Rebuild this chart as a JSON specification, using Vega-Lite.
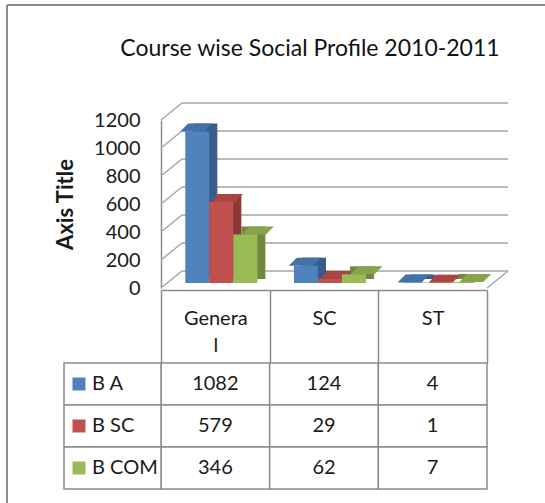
{
  "$schema": "https://vega.github.io/schema/vega-lite/v6.json",
  "width": 538,
  "height": 498,
  "autosize": {"type": "none"},
  "padding": {"left": 7, "top": 5, "right": 0, "bottom": 0},
  "background": "white",
  "config": {
    "view": {"stroke": "#8c8c8c", "strokeWidth": 2, "strokeDash": [538, 1036, 498, 0]},
    "font": "Lato",
    "text": {"font": "Lato"}
  },
  "title": {
    "text": "Course wise Social Profile 2010-2011",
    "font": "Lato",
    "fontSize": 23,
    "fontWeight": "normal",
    "color": "#111111",
    "anchor": "middle",
    "frame": "group",
    "baseline": "alphabetic",
    "offset": -74,
    "dx": 34
  },
  "datasets": {
    "bars": [
      {"cat": "General", "series": "B A", "v": 1082},
      {"cat": "General", "series": "B SC", "v": 579},
      {"cat": "General", "series": "B COM", "v": 346},
      {"cat": "SC", "series": "B A", "v": 124},
      {"cat": "SC", "series": "B SC", "v": 29},
      {"cat": "SC", "series": "B COM", "v": 62},
      {"cat": "ST", "series": "B A", "v": 4},
      {"cat": "ST", "series": "B SC", "v": 1},
      {"cat": "ST", "series": "B COM", "v": 7}
    ],
    "grid": [
      {"g": 0}, {"g": 200}, {"g": 400}, {"g": 600}, {"g": 800}, {"g": 1000}, {"g": 1200}
    ]
  },
  "layer": [
    {
      "layer": [
        {
          "data": {"name": "grid"},
          "mark": {"type": "rule", "stroke": "#a6a6a6", "strokeWidth": 1.5, "xOffset": 21, "x2Offset": 21, "yOffset": -17},
          "encoding": {
            "x": {"datum": "General", "type": "nominal", "bandPosition": 0},
            "x2": {"datum": "ST", "bandPosition": 1},
            "y": {
              "field": "g", "type": "quantitative",
              "scale": {"domain": [0, 1200], "range": [283, 115], "nice": false},
              "axis": {
                "orient": "left", "offset": -154, "values": [0, 200, 400, 600, 800, 1000, 1200], "format": "d",
                "grid": false, "ticks": false, "domain": true, "domainColor": "#8c8c8c", "domainWidth": 1.5,
                "labelPadding": 21, "labelFont": "Lato", "labelFontSize": 20, "labelColor": "#1a1a1a",
                "title": "Axis Title", "titleFont": "Lato", "titleFontSize": 22, "titleFontWeight": "bold",
                "titlePadding": 16, "titleColor": "#1a1a1a"
              }
            }
          }
        },
        {
          "data": {"name": "grid"},
          "mark": {"type": "rule", "stroke": "#a6a6a6", "strokeWidth": 1.5, "x2Offset": 21, "y2Offset": -17},
          "encoding": {
            "x": {"datum": "General", "type": "nominal", "bandPosition": 0},
            "x2": {"datum": "General", "bandPosition": 0},
            "y": {"field": "g", "type": "quantitative"},
            "y2": {"field": "g"}
          }
        },
        {
          "data": {"name": "grid"},
          "transform": [{"filter": "datum.g == 0"}],
          "mark": {"type": "rule", "stroke": "#a6a6a6", "strokeWidth": 1.5, "x2Offset": 21, "y2Offset": -17},
          "encoding": {
            "x": {"datum": "ST", "type": "nominal", "bandPosition": 1},
            "x2": {"datum": "ST", "bandPosition": 1},
            "y": {"field": "g", "type": "quantitative"},
            "y2": {"field": "g"}
          }
        },
        {
          "data": {"name": "bars"},
          "mark": {"type": "bar", "yOffset": -13, "y2Offset": -9},
          "encoding": {
            "x": {
              "field": "cat", "type": "nominal",
              "scale": {"domain": ["General", "SC", "ST"], "range": [154, 480], "paddingInner": 0, "paddingOuter": 0},
              "axis": {
                "orient": "bottom", "offset": -213, "title": null, "grid": false,
                "domainColor": "#8c8c8c", "domainWidth": 1.5,
                "ticks": true, "tickBand": "extent", "tickSize": 73, "tickColor": "#8c8c8c", "tickWidth": 1.5,
                "labelPadding": -55, "labelBaseline": "top", "labelAlign": "center", "labelAngle": 0,
                "labelFont": "Lato", "labelFontSize": 20, "labelColor": "#1a1a1a",
                "labelExpr": "datum.label == 'General' ? ['Genera', 'l'] : datum.label",
                "labelLineHeight": 27
              }
            },
            "xOffset": {"field": "series", "type": "nominal", "scale": {"domain": ["B A", "B SC", "B COM"], "paddingOuter": 0.76, "paddingInner": 0, "align": 0.883}},
            "y": {"field": "v", "type": "quantitative"},
            "y2": {"datum": 0},
            "color": {"field": "series", "type": "nominal", "scale": {"domain": ["B A", "B SC", "B COM"], "range": ["#385d8a", "#8c3836", "#71893f"]}, "legend": null}
          }
        },
        {
          "data": {"name": "bars"},
          "mark": {"type": "point", "shape": "M-12,0L12,0L20,-8L-4,-8Z", "size": 4, "filled": true, "opacity": 1, "strokeWidth": 0, "yOffset": -5},
          "encoding": {
            "x": {"field": "cat", "type": "nominal"},
            "xOffset": {"field": "series", "type": "nominal", "scale": {"domain": ["B A", "B SC", "B COM"], "paddingOuter": 0.76, "paddingInner": 0, "align": 0.664}},
            "y": {"field": "v", "type": "quantitative"},
            "color": {"field": "series", "type": "nominal", "scale": {"domain": ["B A", "B SC", "B COM"], "range": ["#4372aa", "#a94643", "#87a44d"]}, "legend": null}
          }
        },
        {
          "data": {"name": "bars"},
          "mark": {"type": "bar", "yOffset": -5, "y2Offset": -5},
          "encoding": {
            "x": {"field": "cat", "type": "nominal"},
            "xOffset": {"field": "series", "type": "nominal", "scale": {"domain": ["B A", "B SC", "B COM"], "paddingOuter": 0.76, "paddingInner": 0, "align": 0.664}},
            "y": {"field": "v", "type": "quantitative"},
            "y2": {"datum": 0},
            "color": {"field": "series", "type": "nominal", "scale": {"domain": ["B A", "B SC", "B COM"], "range": ["#4f81bd", "#c0504d", "#9bbb59"]}, "legend": null}
          }
        }
      ],
      "resolve": {"scale": {"color": "independent", "xOffset": "independent"}}
    },
    {
      "data": {"name": "bars"},
      "layer": [
        {
          "mark": {"type": "rect", "fill": "white", "stroke": "#8c8c8c", "strokeWidth": 1.5},
          "encoding": {
            "x": {"field": "cat", "type": "nominal"},
            "y": {"field": "series", "type": "nominal", "scale": {"domain": ["B A", "B SC", "B COM"], "range": [358, 484], "paddingInner": 0, "paddingOuter": 0}, "axis": null}
          }
        },
        {
          "transform": [{"filter": "datum.cat == 'General'"}],
          "mark": {"type": "rect", "fill": "white", "stroke": "#8c8c8c", "strokeWidth": 1.5, "xOffset": -97},
          "encoding": {
            "x": {"datum": "General", "type": "nominal", "bandPosition": 0},
            "x2": {"datum": "General", "bandPosition": 0},
            "y": {"field": "series", "type": "nominal", "axis": null}
          }
        },
        {
          "mark": {"type": "text", "font": "Lato", "fontSize": 20, "color": "#1a1a1a", "align": "center", "baseline": "middle"},
          "encoding": {
            "x": {"field": "cat", "type": "nominal"},
            "y": {"field": "series", "type": "nominal", "axis": null},
            "text": {"field": "v", "type": "quantitative"}
          }
        },
        {
          "transform": [{"filter": "datum.cat == 'General'"}],
          "mark": {"type": "text", "font": "Lato", "fontSize": 20, "color": "#1a1a1a", "align": "left", "baseline": "middle", "xOffset": -69},
          "encoding": {
            "x": {"datum": "General", "type": "nominal", "bandPosition": 0},
            "y": {"field": "series", "type": "nominal", "axis": null},
            "text": {"field": "series", "type": "nominal"}
          }
        },
        {
          "transform": [{"filter": "datum.cat == 'General'"}],
          "mark": {"type": "point", "shape": "square", "size": 169, "filled": true, "opacity": 1, "strokeWidth": 0, "xOffset": -82},
          "encoding": {
            "x": {"datum": "General", "type": "nominal", "bandPosition": 0},
            "y": {"field": "series", "type": "nominal", "axis": null},
            "color": {"field": "series", "type": "nominal", "scale": {"domain": ["B A", "B SC", "B COM"], "range": ["#4f81bd", "#c0504d", "#9bbb59"]}, "legend": null}
          }
        }
      ]
    }
  ],
  "resolve": {"scale": {"y": "independent", "color": "independent"}}
}
